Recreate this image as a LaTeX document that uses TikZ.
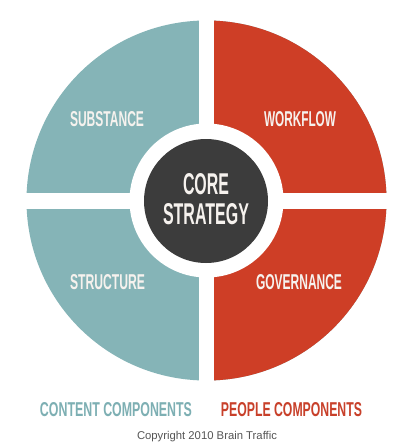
\documentclass[tikz,border=0pt]{standalone}
\usepackage{fontspec}
\usepackage{graphicx}
\setmainfont{Liberation Sans}
\definecolor{tealc}{HTML}{85B4B7}
\definecolor{redc}{HTML}{CE3E26}
\definecolor{darkc}{HTML}{3C3C3C}
\definecolor{labc}{HTML}{F6F2EE}
\definecolor{tealt}{HTML}{7DAFB3}
\definecolor{redt}{HTML}{C8402A}
\definecolor{grayt}{HTML}{555555}
\newcommand{\fitlab}[3]{\resizebox{#1pt}{#2pt}{\bfseries #3}}
\begin{document}
\begin{tikzpicture}[x=1pt,y=-1pt,
  seglab/.style={inner sep=0pt, text=labc, anchor=center},
  botlab/.style={inner sep=0pt, anchor=center}]
\useasboundingbox (0,0) rectangle (411,447);
\fill[white] (0,0) rectangle (411,447);
\coordinate (c) at (206.5,200.5);
% outer disc
\node[circle, fill=tealc, minimum size=360pt, inner sep=0pt] (disc) at (c) {};
\begin{scope}
  \clip (206.5,0) rectangle (411,447);
  \node[circle, fill=redc, minimum size=360pt, inner sep=0pt] (discr) at (c) {};
\end{scope}
% white cross
\fill[white] (199,15) rectangle (214,386);
\fill[white] (20,192.5) rectangle (393,208.5);
% white ring and core
\node[circle, fill=white, minimum size=154pt, inner sep=0pt] (ring) at (c) {};
\node[circle, fill=darkc, minimum size=124pt, inner sep=0pt] (core) at (206,201) {};
% core text
\node[seglab] (coreA) at (206,184.5) {\fitlab{46}{21}{CORE}};
\node[seglab] (coreB) at (206,214.5) {\fitlab{86}{21}{STRATEGY}};
% quadrant labels
\node[seglab] (sub) at (107,119.5) {\fitlab{74}{15}{SUBSTANCE}};
\node[seglab] (wf) at (300,119.5) {\fitlab{72}{15}{WORKFLOW}};
\node[seglab] (str) at (107.5,282.5) {\fitlab{75}{15}{STRUCTURE}};
\node[seglab] (gov) at (299,282.5) {\fitlab{86}{15}{GOVERNANCE}};
% bottom labels
\node[botlab, text=tealt] (content) at (116,410) {\fitlab{152}{14}{CONTENT COMPONENTS}};
\node[botlab, text=redt] (people) at (291.5,410) {\fitlab{141}{14}{PEOPLE COMPONENTS}};
\node[inner sep=0pt, anchor=base, text=grayt] (copy) at (207,439) {\resizebox{140pt}{!}{\fontsize{11}{13}\selectfont Copyright 2010 Brain Traffic}};
\end{tikzpicture}
\end{document}
